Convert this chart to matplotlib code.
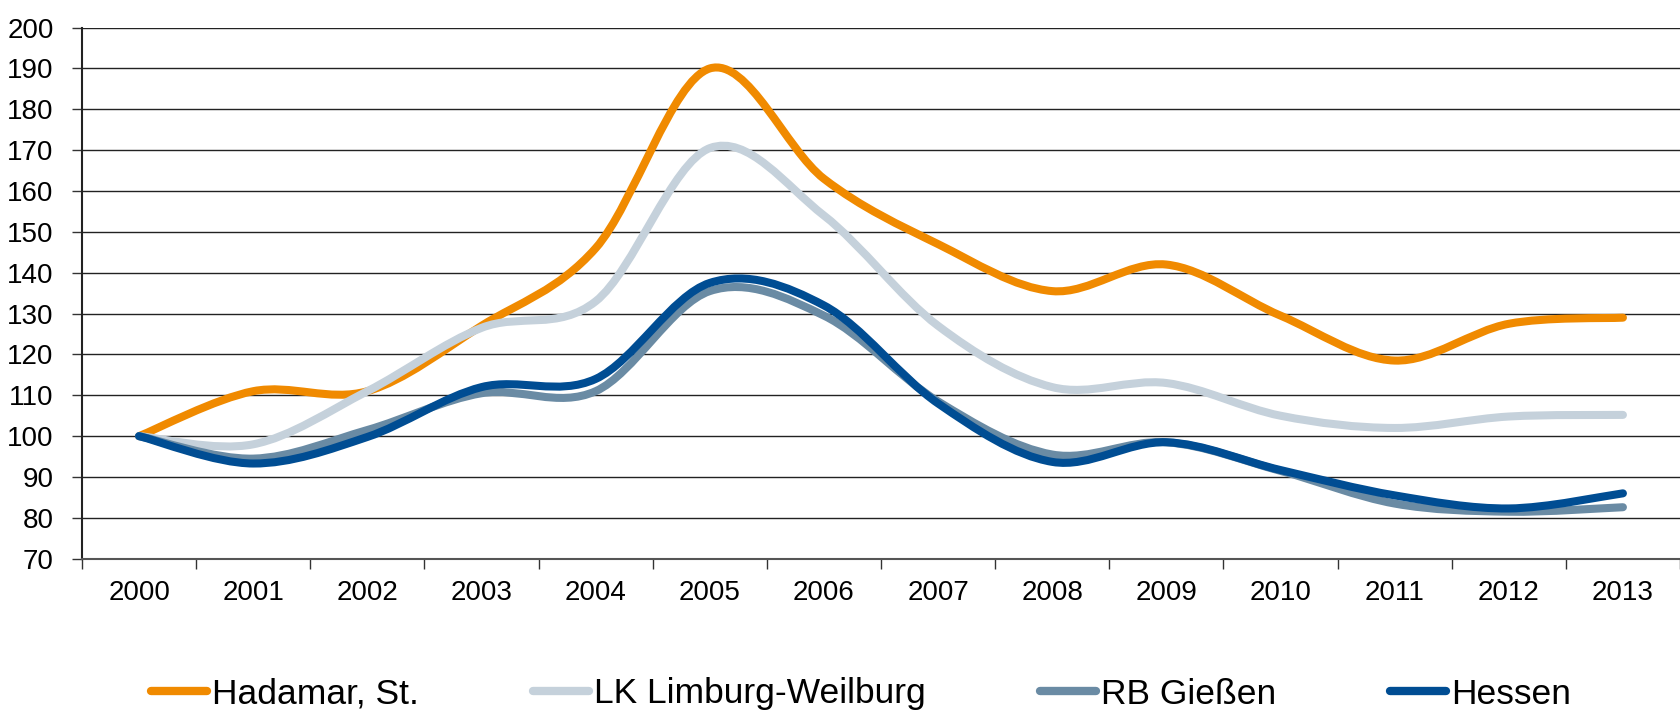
import numpy as np
import matplotlib
matplotlib.use('Agg')
import matplotlib.pyplot as plt
from matplotlib.path import Path
from matplotlib.patches import PathPatch
from matplotlib.lines import Line2D

plt.rcParams['font.family'] = ['Liberation Sans', 'DejaVu Sans']

# Daten
years = [2000, 2001, 2002, 2003, 2004, 2005, 2006, 2007, 2008, 2009, 2010, 2011, 2012, 2013]
hadamar = [100, 111, 111, 127, 146, 190, 163, 147, 135.5, 142, 129.5, 118.5, 127.5, 129]
limburg = [100, 98, 111, 126.5, 133, 170.5, 154, 127, 112, 113, 105, 102, 104.8, 105.2]
giessen = [100, 94.5, 101.5, 110.5, 111, 135.5, 129.5, 108.5, 95.5, 98.5, 91.5, 83.5, 81.5, 82.6]
hessen = [100, 93.3, 99.8, 112, 114, 137.5, 132, 108, 93.7, 98.5, 91.7, 85.5, 82.3, 86]

names = ['Hadamar, St.', 'LK Limburg-Weilburg', 'RB Gießen', 'Hessen']
series = [hadamar, limburg, giessen, hessen]
colors = ['#F08A00', '#C5D1DB', '#6A8BA4', '#004D93']


def smooth_path(xs, ys):
    # geglaettete Linie wie in Excel (Catmull-Rom als Bezier)
    p = np.column_stack([xs, ys]).astype(float)
    n = len(p)
    verts = [p[0]]
    codes = [Path.MOVETO]
    for i in range(n - 1):
        prev = p[i - 1] if i > 0 else p[i]
        nxt = p[i + 2] if i + 2 < n else p[i + 1]
        c1 = p[i] + (p[i + 1] - prev) / 6.0
        c2 = p[i + 1] - (nxt - p[i]) / 6.0
        verts += [c1, c2, p[i + 1]]
        codes += [Path.CURVE4] * 3
    return Path(verts, codes)


fig = plt.figure(figsize=(16.8, 7.18), dpi=100)
ax = fig.add_axes([82 / 1680, 159.3 / 718, 1 - 82 / 1680, 531.1 / 718])

x = np.arange(len(years))
for vals, col in zip(series, colors):
    patch = PathPatch(smooth_path(x, vals), fill=False, edgecolor=col, lw=5.8,
                      capstyle='round', joinstyle='round', zorder=3)
    ax.add_patch(patch)

ax.set_xlim(-0.5, len(years) - 0.5)
ax.set_ylim(70, 200)
ax.set_yticks(np.arange(70, 201, 10))
ax.yaxis.grid(True, color='#222222', lw=1.0)
ax.set_axisbelow(True)

# Kategorie-Achse: Striche zwischen den Jahren, Beschriftung in der Mitte
ax.set_xticks(np.arange(-0.5, len(years), 1.0))
ax.set_xticklabels([])
ax.set_xticks(x, minor=True)
ax.set_xticklabels([str(y) for y in years], minor=True)
ax.tick_params(axis='x', which='major', direction='out', length=7.5, width=1, color='#333333')
ax.tick_params(axis='x', which='minor', length=0, pad=15.5, labelsize=20)
ax.tick_params(axis='y', direction='out', length=7.5, width=1, color='#333333', pad=13, labelsize=20)

for s in ['top', 'right']:
    ax.spines[s].set_visible(False)
ax.spines['left'].set_color('#222222')
ax.spines['left'].set_linewidth(1.5)
ax.spines['bottom'].set_color('#555555')
ax.spines['bottom'].set_linewidth(1.5)

handles = [Line2D([], [], color=c, lw=6, solid_capstyle='round') for c in colors]
fig.legend(handles, names, loc='center', bbox_to_anchor=(861 / 1680, 1 - 694 / 718),
           ncol=4, frameon=False, fontsize=25.5, handlelength=1.58, handletextpad=0.15,
           columnspacing=3.22, borderaxespad=0, borderpad=0)

fig.savefig('out.png', dpi=100)
